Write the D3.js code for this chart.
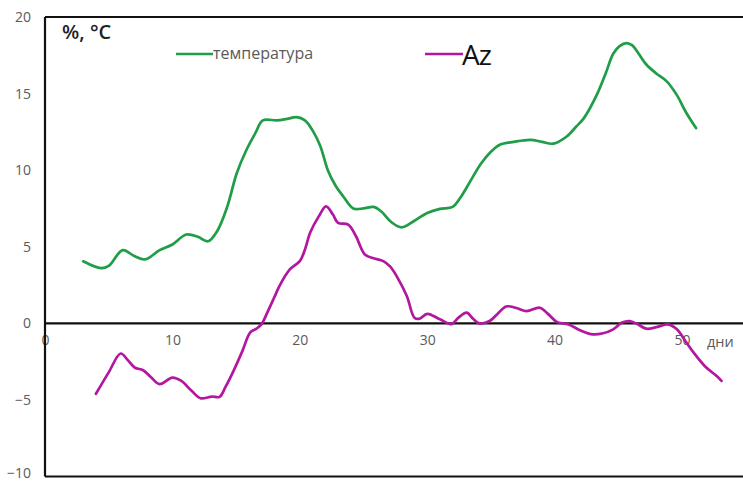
<!DOCTYPE html>
<html>
<head>
<meta charset="utf-8">
<script src="https://cdn.jsdelivr.net/npm/d3@7"></script>
<style>
  html, body { margin: 0; padding: 0; background: #fff; }
  svg { display: block; }
</style>
</head>
<body>
<svg id="chart" width="743" height="482"></svg>
<script>
// Days of observation and measured values
const tempDays = [3.0, 4.4, 5.0, 6.1, 7.0, 7.85, 9.0, 10.0, 11.1, 12.0, 12.8, 13.5, 14.3, 15.05, 15.8, 16.5, 17.1, 18.2, 19.0, 19.75, 20.4, 21.0, 21.6, 22.2, 22.8, 23.4, 24.2, 25.0, 25.8, 26.4, 27.2, 28.0, 29.0, 30.0, 31.0, 32.0, 32.6, 33.4, 34.2, 35.0, 35.7, 36.8, 38.1, 39.0, 39.9, 40.95, 41.7, 42.3, 43.3, 44.0, 44.6, 45.1, 45.65, 46.1, 46.6, 47.2, 48.0, 48.8, 49.6, 50.3, 51.1];
const tempValues = [4.05, 3.6, 3.75, 4.78, 4.4, 4.17, 4.78, 5.15, 5.8, 5.65, 5.36, 6.0, 7.6, 9.8, 11.3, 12.4, 13.25, 13.25, 13.35, 13.46, 13.25, 12.6, 11.6, 10.0, 9.0, 8.3, 7.5, 7.5, 7.6, 7.3, 6.6, 6.27, 6.7, 7.2, 7.47, 7.6, 8.2, 9.3, 10.4, 11.2, 11.66, 11.85, 11.98, 11.85, 11.73, 12.2, 12.85, 13.4, 14.9, 16.3, 17.6, 18.1, 18.3, 18.15, 17.6, 16.9, 16.3, 15.8, 14.9, 13.8, 12.75];

const azDays = [4.0, 5.0, 5.94, 6.5, 7.06, 7.7, 8.3, 9.0, 10.0, 10.7, 11.5, 12.2, 13.1, 13.7, 14.2, 14.8, 15.5, 16.1, 16.6, 17.0, 17.5, 18.0, 18.4, 19.2, 20.0, 20.4, 20.8, 21.5, 22.06, 22.6, 23.0, 23.8, 24.4, 25.1, 25.8, 26.55, 27.1, 27.6, 28.4, 29.0, 29.4, 30.0, 31.0, 31.9, 32.5, 33.1, 33.6, 34.1, 34.9, 35.5, 36.2, 37.0, 37.8, 38.85, 39.5, 40.2, 41.1, 42.0, 43.0, 43.8, 44.6, 45.3, 45.9, 46.5, 47.2, 48.0, 48.9, 49.6, 50.3, 50.9, 51.8, 52.7, 53.1];
const azValues = [-4.6, -3.2, -1.97, -2.4, -2.9, -3.06, -3.5, -3.97, -3.54, -3.76, -4.4, -4.89, -4.78, -4.8, -4.1, -3.1, -1.8, -0.6, -0.35, -0.05, 0.8, 1.7, 2.43, 3.5, 4.06, 4.8, 5.9, 7.0, 7.64, 7.1, 6.56, 6.45, 5.7, 4.5, 4.25, 4.06, 3.7, 3.08, 1.78, 0.37, 0.3, 0.62, 0.26, -0.05, 0.4, 0.7, 0.3, 0.0, 0.15, 0.6, 1.1, 1.0, 0.8, 1.02, 0.6, 0.08, -0.07, -0.45, -0.72, -0.65, -0.39, 0.05, 0.15, -0.05, -0.35, -0.25, -0.07, -0.39, -1.2, -1.9, -2.8, -3.43, -3.76];

const yTicks = [-10, -5, 0, 5, 10, 15, 20];
const xTicks = [0, 10, 20, 30, 40, 50];
const seriesNames = ["температура", "Az"];
const seriesColors = ["#1f9d47", "#b3179f"];

const svg = d3.select("#chart");
const W = 743;

const x = d3.scaleLinear().domain([0, 50]).range([45, 682]);
const y = d3.scaleLinear().domain([-10, 20]).range([476.5, 17]);

const axisColor = "#111";
const labelColor = "#5a5a5a";
const font = "'Open Sans', 'DejaVu Sans', sans-serif";

// Y axis tick labels
const yAxis = svg.append("g")
  .attr("transform", `translate(${x(0)},0)`)
  .call(d3.axisLeft(y).tickValues(yTicks).tickSize(0).tickPadding(14).tickFormat(d3.format("d")));
yAxis.select(".domain").remove();
yAxis.selectAll("text")
  .attr("fill", labelColor)
  .style("font-family", font)
  .style("font-size", "14px");
// keep the lowest label inside the canvas
yAxis.selectAll(".tick").filter(d => d === -10).select("text").attr("dy", "0.05em");

// X axis tick labels, hanging below the zero line
const xAxis = svg.append("g")
  .attr("transform", `translate(0,${y(0)})`)
  .call(d3.axisBottom(x).tickValues(xTicks).tickSize(0).tickPadding(12).tickFormat(d3.format("d")));
xAxis.select(".domain").remove();
xAxis.selectAll("text")
  .attr("fill", labelColor)
  .style("font-family", font)
  .style("font-size", "14px");

// Frame: left, top, bottom, plus the zero line
const frame = svg.append("g").attr("stroke", axisColor).attr("stroke-width", 2.2).attr("fill", "none");
frame.append("line").attr("x1", x(0)).attr("x2", x(0)).attr("y1", y(20)).attr("y2", y(-10));
frame.append("line").attr("x1", x(0)).attr("x2", W).attr("y1", y(20)).attr("y2", y(20));
frame.append("line").attr("x1", x(0)).attr("x2", W).attr("y1", y(-10)).attr("y2", y(-10));
frame.append("line").attr("x1", x(0)).attr("x2", W).attr("y1", y(0)).attr("y2", y(0));

// Axis titles
svg.append("text")
  .attr("x", 62).attr("y", 39)
  .attr("fill", "#222")
  .style("font-family", font)
  .style("font-size", "20px")
  .style("font-weight", "600")
  .text("%, °C");

svg.append("text")
  .attr("x", 707).attr("y", 347)
  .attr("fill", labelColor)
  .style("font-family", font)
  .style("font-size", "14.5px")
  .text("дни");

// Series lines
const line = d3.line()
  .x(d => x(d[0]))
  .y(d => y(d[1]))
  .curve(d3.curveCatmullRom.alpha(0.5));

const series = [
  d3.zip(tempDays, tempValues),
  d3.zip(azDays, azValues)
];

svg.append("g").selectAll("path")
  .data(series)
  .join("path")
  .attr("d", line)
  .attr("fill", "none")
  .attr("stroke", (d, i) => seriesColors[i])
  .attr("stroke-width", 2.7)
  .attr("stroke-linejoin", "round")
  .attr("stroke-linecap", "round");

// Legend
const leg1 = svg.append("g");
leg1.append("line").attr("x1", 176).attr("x2", 213).attr("y1", 54).attr("y2", 54)
  .attr("stroke", seriesColors[0]).attr("stroke-width", 2.7);
leg1.append("text").attr("x", 213).attr("y", 59)
  .attr("fill", labelColor)
  .style("font-family", font)
  .style("font-size", "16px")
  .text(seriesNames[0]);

const leg2 = svg.append("g");
leg2.append("line").attr("x1", 425).attr("x2", 463).attr("y1", 54).attr("y2", 54)
  .attr("stroke", seriesColors[1]).attr("stroke-width", 2.7);
leg2.append("text").attr("x", 462).attr("y", 65)
  .attr("fill", "#111")
  .style("font-family", font)
  .style("font-size", "28px")
  .style("letter-spacing", "-1px")
  .text(seriesNames[1]);
</script>
</body>
</html>
